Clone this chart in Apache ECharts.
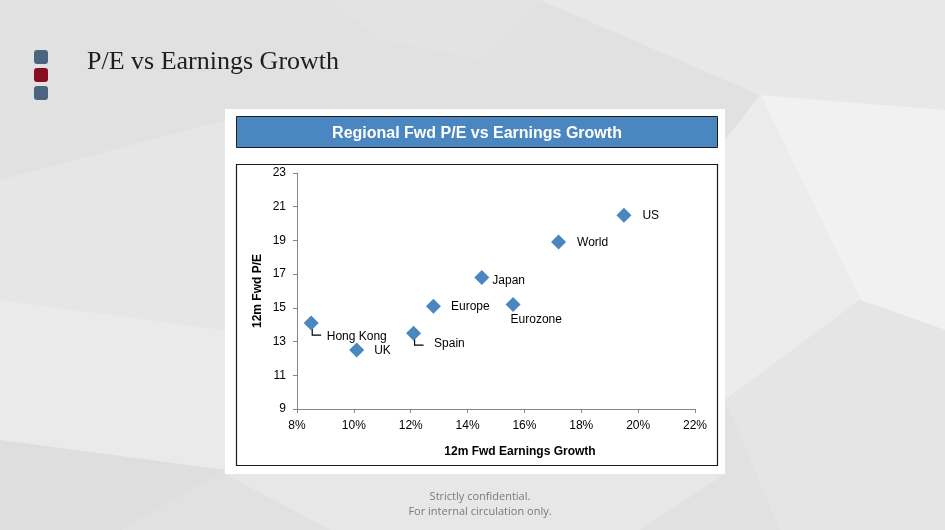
<!DOCTYPE html>
<html>
<head>
<meta charset="utf-8">
<script src="https://cdn.jsdelivr.net/npm/echarts@6/dist/echarts.min.js"></script>
<style>
  html, body { margin: 0; padding: 0; background: #e2e1e2; }
  #chart { width: 945px; height: 530px; }
</style>
</head>
<body>
<div id="chart"></div>
<script>
// regions and their values
const regions = ["Hong Kong", "UK", "Spain", "Europe", "Eurozone", "Japan", "World", "US"];
const earningsGrowth = [8.5, 10.1, 12.1, 12.8, 15.6, 14.5, 17.2, 19.5];
const fwdPE = [14.1, 12.5, 13.5, 15.1, 15.2, 16.8, 18.9, 20.5];

const xTicks = { min: 8, max: 22, interval: 2 };
const yTicks = { min: 9, max: 23, interval: 2 };

// where each label sits next to its diamond (pixels)
const labelOffsets = {
  "Hong Kong": [8, 14],
  "UK": [10, 1],
  "Spain": [13, 11],
  "Europe": [10, 1],
  "Eurozone": [-10, 15],
  "Japan": [3, 3],
  "World": [11, 1],
  "US": [11, 1],
};
// labels with a little elbow line
const leaderLines = ["Hong Kong", "Spain"];

const FONT = "Liberation Sans, Arial, sans-serif";
const BLUE = "#4a86c0";

const chart = echarts.init(document.getElementById("chart"), null, { renderer: "canvas" });

const scatterData = regions.map((name, i) => ({
  name: name,
  value: [earningsGrowth[i], fwdPE[i]],
  label: { offset: labelOffsets[name] },
}));

const leaderData = regions
  .map((name, i) => ({ name: name, value: [earningsGrowth[i], fwdPE[i]] }))
  .filter((d) => leaderLines.includes(d.name));

// low-poly backdrop, just decoration
const bgPolys = [
  { pts: [[540, 0], [945, 0], [945, 110], [760, 95]], fill: "#e9e8e9" },
  { pts: [[760, 95], [945, 110], [945, 330], [860, 300]], fill: "#f1f1f1" },
  { pts: [[725, 140], [760, 95], [860, 300], [725, 400]], fill: "#ececec" },
  { pts: [[0, 180], [225, 120], [225, 330], [0, 300]], fill: "#e7e6e7" },
  { pts: [[0, 300], [225, 330], [225, 470], [0, 440]], fill: "#ebeaeb" },
  { pts: [[0, 440], [225, 470], [120, 530], [0, 530]], fill: "#dfdedf" },
  { pts: [[225, 474], [725, 474], [640, 530], [330, 530]], fill: "#e8e7e8" },
  { pts: [[725, 400], [860, 300], [945, 330], [945, 530], [780, 530]], fill: "#e6e5e6" },
  { pts: [[330, 0], [540, 0], [480, 60], [380, 40]], fill: "#e4e3e4" },
];

const graphics = bgPolys.map((p) => ({
  type: "polygon",
  z: -30,
  silent: true,
  shape: { points: p.pts },
  style: { fill: p.fill },
}));

graphics.push(
  // slide header squares
  { type: "rect", z: -20, shape: { x: 34, y: 50, width: 14, height: 14, r: 3 }, style: { fill: "#4b6480" } },
  { type: "rect", z: -20, shape: { x: 34, y: 68, width: 14, height: 14, r: 3 }, style: { fill: "#8a0c22" } },
  { type: "rect", z: -20, shape: { x: 34, y: 86, width: 14, height: 14, r: 3 }, style: { fill: "#4b6480" } },
  {
    type: "text", z: -20, left: 87, top: 49,
    style: { text: "P/E vs Earnings Growth", font: "26px 'Liberation Serif', 'DejaVu Serif', serif", fill: "#1e1e1e" },
  },
  // white card behind the chart
  { type: "rect", z: -20, shape: { x: 225, y: 109, width: 500, height: 365 }, style: { fill: "#ffffff" } },
  // title banner
  {
    type: "rect", z: -19, shape: { x: 236.5, y: 116.5, width: 481, height: 31 },
    style: { fill: BLUE, stroke: "#1f1f1f", lineWidth: 1 },
  },
  {
    type: "text", z: -18, x: 477, y: 134,
    style: {
      text: "Regional Fwd P/E vs Earnings Growth", align: "center", verticalAlign: "middle",
      font: "bold 16px " + FONT, fill: "#ffffff",
    },
  },
  // plot frame
  {
    type: "rect", z: -19, shape: { x: 236.5, y: 164.5, width: 481, height: 301 },
    style: { fill: "#ffffff", stroke: "#1a1a1a", lineWidth: 1.2 },
  },
  // footer
  {
    type: "text", z: -20, x: 480, y: 497,
    style: {
      text: "Strictly confidential.", align: "center", verticalAlign: "middle",
      font: "11px 'Open Sans', sans-serif", fill: "#7a7a7a",
    },
  },
  {
    type: "text", z: -20, x: 480, y: 512,
    style: {
      text: "For internal circulation only.", align: "center", verticalAlign: "middle",
      font: "11px 'Open Sans', sans-serif", fill: "#7a7a7a",
    },
  }
);

const axisCommon = {
  type: "value",
  nameLocation: "middle",
  nameTextStyle: { fontFamily: FONT, fontWeight: "bold", fontSize: 12, color: "#000" },
  axisLine: { show: true, lineStyle: { color: "#868686", width: 1 } },
  axisTick: { show: true, length: 4, lineStyle: { color: "#868686" } },
  axisLabel: { fontFamily: FONT, fontSize: 12, color: "#000" },
  splitLine: { show: false },
};

const option = {
  backgroundColor: "#e2e1e2",
  animation: false,
  graphic: graphics,
  grid: { left: 297, top: 173, width: 398, height: 236 },
  xAxis: Object.assign({}, axisCommon, {
    min: xTicks.min,
    max: xTicks.max,
    interval: xTicks.interval,
    name: "12m Fwd Earnings Growth",
    nameGap: 37,
    nameTextStyle: Object.assign({}, axisCommon.nameTextStyle, { padding: [0, 0, 0, 48] }),
    axisLabel: Object.assign({}, axisCommon.axisLabel, { margin: 11, formatter: "{value}%" }),
  }),
  yAxis: Object.assign({}, axisCommon, {
    min: yTicks.min,
    max: yTicks.max,
    interval: yTicks.interval,
    name: "12m Fwd P/E",
    nameGap: 33,
    axisLabel: Object.assign({}, axisCommon.axisLabel, { margin: 11 }),
  }),
  series: [
    {
      type: "custom",
      z: 3,
      silent: true,
      data: leaderData,
      renderItem: function (params, api) {
        const p = api.coord([api.value(0), api.value(1)]);
        return {
          type: "polyline",
          shape: { points: [[p[0] + 1, p[1]], [p[0] + 1, p[1] + 12], [p[0] + 10, p[1] + 12]] },
          style: { stroke: "#000", lineWidth: 1.2, fill: null },
        };
      },
    },
    {
      type: "scatter",
      z: 5,
      symbol: "diamond",
      symbolSize: 15,
      itemStyle: { color: BLUE, opacity: 1 },
      label: {
        show: true,
        position: "right",
        distance: 0,
        align: "left",
        verticalAlign: "middle",
        formatter: "{b}",
        fontFamily: FONT,
        fontSize: 12,
        color: "#000",
      },
      data: scatterData,
    },
  ],
};

chart.setOption(option);
</script>
</body>
</html>
